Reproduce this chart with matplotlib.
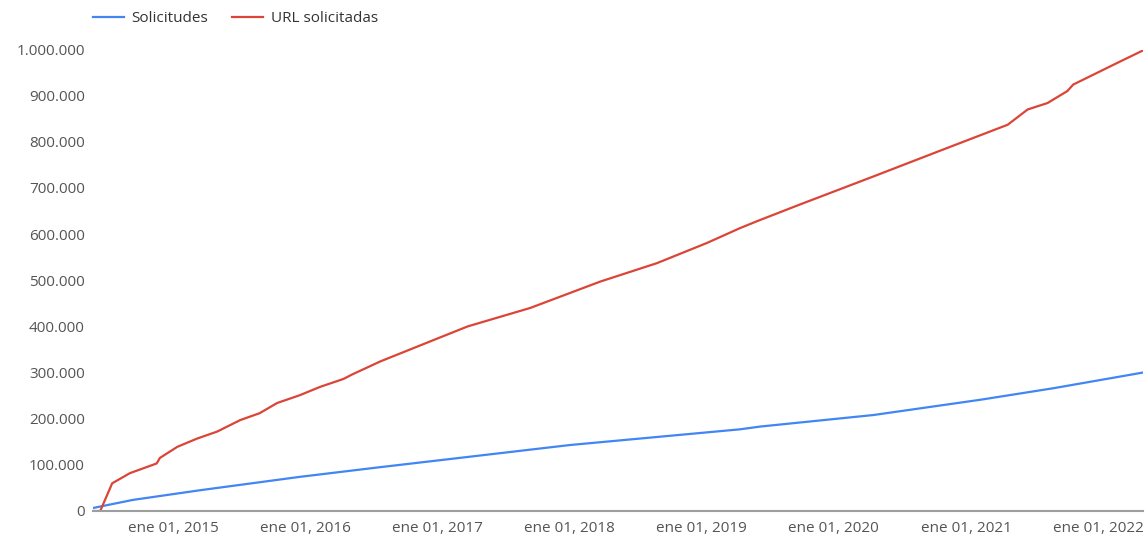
import matplotlib
matplotlib.use("Agg")
import matplotlib.pyplot as plt
import matplotlib.dates as mdates
from matplotlib.ticker import FuncFormatter, MultipleLocator
import numpy as np

plt.rcParams['font.family'] = ['Open Sans', 'DejaVu Sans']

# data (cumulative counts)
red_dates = ['2014-05-24', '2014-06-13', '2014-07-16', '2014-09-03', '2014-11-16',
             '2014-11-25', '2015-01-12', '2015-03-08', '2015-05-02', '2015-07-05',
             '2015-08-28', '2015-10-15', '2015-12-17', '2016-02-11', '2016-04-15',
             '2016-05-10', '2016-07-26', '2017-01-01', '2017-03-25', '2017-09-14',
             '2018-03-26', '2018-08-30', '2019-01-16', '2019-04-17', '2019-06-03',
             '2019-09-29', '2020-04-20', '2020-10-22', '2021-04-26', '2021-06-20',
             '2021-08-14', '2021-10-08', '2021-10-24', '2022-02-23', '2022-05-05']
url_solicitadas = [0, 0, 60000, 82000, 103000,
                   115000, 139000, 157000, 172000, 197000,
                   212000, 234000, 251000, 269000, 286000,
                   296000, 324000, 374000, 400000, 440000,
                   497000, 537000, 581000, 613000, 628000,
                   664000, 725000, 781000, 837000, 870000,
                   884000, 910000, 924000, 971000, 998000]

blue_dates = ['2014-05-24', '2014-09-11', '2015-03-16', '2015-12-17', '2016-07-26',
              '2016-09-19', '2018-01-02', '2019-04-17', '2019-06-12', '2020-04-20',
              '2021-02-09', '2021-08-30', '2022-05-05']
solicitudes = [6500, 24000, 45000, 74000, 95000,
               100000, 143000, 177000, 183000, 208000,
               241000, 266000, 300000]

meses = ['ene', 'feb', 'mar', 'abr', 'may', 'jun',
         'jul', 'ago', 'sep', 'oct', 'nov', 'dic']

red_x = np.array(red_dates, dtype='datetime64[D]')
blue_x = np.array(blue_dates, dtype='datetime64[D]')

fig = plt.figure(figsize=(11.48, 5.38), dpi=100)
ax = fig.add_axes([93 / 1148, 1 - 511 / 538, (1143 - 93) / 1148, (511 - 49.5) / 538])

ax.plot(blue_x, solicitudes, color='#4285F4', lw=1.6, label='Solicitudes')
ax.plot(red_x, url_solicitadas, color='#DB4437', lw=1.6, label='URL solicitadas')

ax.set_xlim(np.datetime64('2014-05-24'), np.datetime64('2022-05-05'))
ax.set_ylim(0, 1000000)

for s in ['top', 'right', 'left']:
    ax.spines[s].set_visible(False)
ax.spines['bottom'].set_color('#9e9e9e')
ax.spines['bottom'].set_linewidth(1.5)

ax.yaxis.set_major_locator(MultipleLocator(100000))
ax.yaxis.set_major_formatter(FuncFormatter(lambda v, p: f"{int(v):,}".replace(',', '.')))
ax.xaxis.set_major_locator(mdates.YearLocator())


def fecha(v, p):
    d = mdates.num2date(v)
    return f"{meses[d.month - 1]} {d.day:02d}, {d.year}"


ax.xaxis.set_major_formatter(FuncFormatter(fecha))
ax.tick_params(axis='both', length=0, labelsize=11, labelcolor='#555555')
ax.tick_params(axis='y', pad=6)
ax.tick_params(axis='x', pad=7)
ax.set_facecolor('none')

fig.legend(loc='upper left', bbox_to_anchor=(93 / 1148, 1 - 11 / 538), ncol=2, frameon=False,
           fontsize=11, handlelength=2.0, columnspacing=1.6, handletextpad=0.5,
           borderpad=0, borderaxespad=0, labelcolor='#333333')

fig.savefig('out.png', dpi=100)
